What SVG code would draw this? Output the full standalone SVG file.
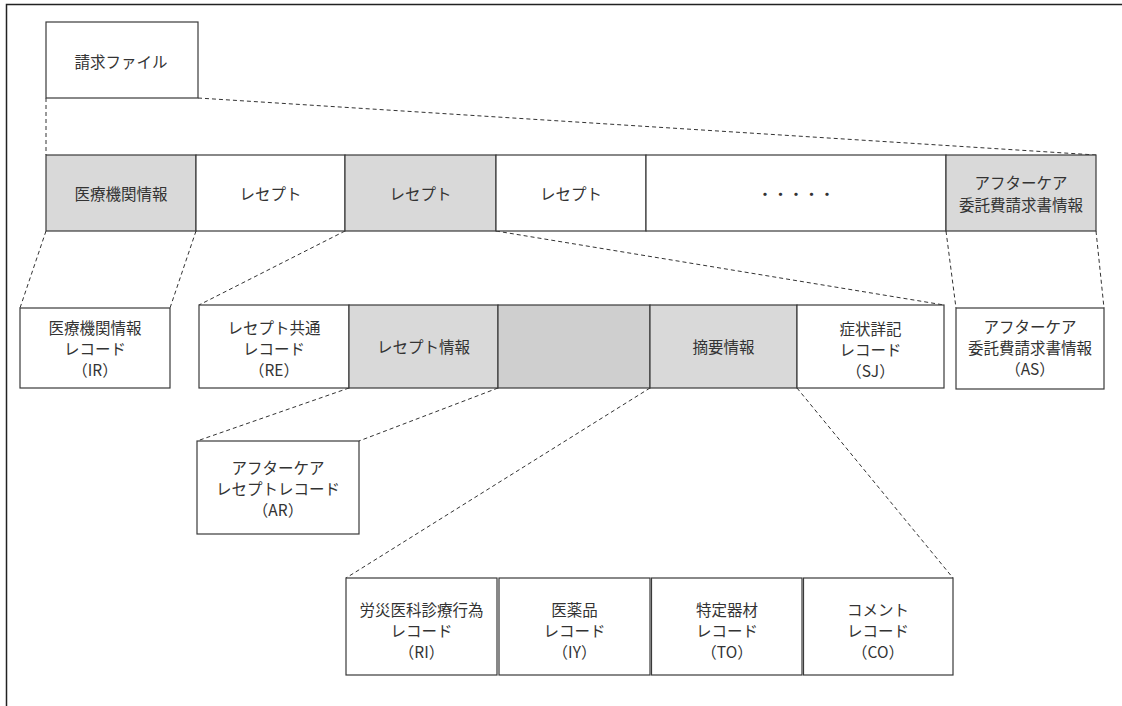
<svg xmlns="http://www.w3.org/2000/svg" width="1122" height="706" viewBox="0 0 1122 706">
<style>
.b{fill:#ffffff;stroke:#3a3a3a;stroke-width:1.2}
.g{fill:#d9d9d9;stroke:#3a3a3a;stroke-width:1.2}
.d{fill:#cfcfcf;stroke:#3a3a3a;stroke-width:1.2}
.t{font-family:"Noto Sans CJK JP","Noto Sans",sans-serif;font-size:15.5px;fill:#333333;text-anchor:middle;dominant-baseline:central}
.c line{stroke:#333333;stroke-width:1;stroke-dasharray:4 3;fill:none}
</style>
<rect x="0" y="0" width="1122" height="706" fill="#ffffff"/>
<path d="M6.5,706 V4.5 H1122" fill="none" stroke="#222222" stroke-width="1.5"/>

<g class="c" id="connectors">
<line x1="46" y1="98" x2="46" y2="155"/>
<line x1="198" y1="98" x2="1096" y2="155"/>
<line x1="46" y1="231" x2="20" y2="308"/>
<line x1="196" y1="231" x2="170" y2="308"/>
<line x1="345" y1="231" x2="199" y2="305"/>
<line x1="496" y1="231" x2="944" y2="305"/>
<line x1="946" y1="231" x2="956" y2="308"/>
<line x1="1096" y1="231" x2="1104" y2="308"/>
<line x1="349" y1="388" x2="197" y2="441"/>
<line x1="498" y1="388" x2="359" y2="441"/>
<line x1="650" y1="388" x2="346" y2="578"/>
<line x1="797" y1="388" x2="953" y2="578"/>
</g>

<g id="seikyu-file">
<rect class="b" x="46" y="22" width="152" height="76"/>
<text class="t" x="121" y="61">請求ファイル</text>
</g>

<g id="row1">
<g id="r1-iryokikan"><rect class="g" x="46" y="155" width="150" height="76"/><text class="t" x="121" y="193">医療機関情報</text></g>
<g id="r1-rece1"><rect class="b" x="196" y="155" width="149" height="76"/><text class="t" x="270.5" y="193">レセプト</text></g>
<g id="r1-rece2"><rect class="g" x="345" y="155" width="151" height="76"/><text class="t" x="420.5" y="193">レセプト</text></g>
<g id="r1-rece3"><rect class="b" x="496" y="155" width="150" height="76"/><text class="t" x="571" y="193">レセプト</text></g>
<g id="r1-dots"><rect class="b" x="646" y="155" width="300" height="76"/><text class="t" x="796" y="193">・・・・・</text></g>
<g id="r1-aftercare"><rect class="g" x="946" y="155" width="150" height="76"/><text class="t" x="1021" y="182">アフターケア</text><text class="t" x="1021" y="204">委託費請求書情報</text></g>
</g>

<g id="ir">
<rect class="b" x="20" y="308" width="150" height="80"/>
<text class="t" x="95" y="327">医療機関情報</text>
<text class="t" x="95" y="348">レコード</text>
<text class="t" x="95" y="369">（IR）</text>
</g>

<g id="row2">
<g id="re"><rect class="b" x="199" y="305" width="150" height="83"/><text class="t" x="274" y="327">レセプト共通</text><text class="t" x="274" y="348">レコード</text><text class="t" x="274" y="369">（RE）</text></g>
<g id="rece-info"><rect class="g" x="349" y="305" width="149" height="83"/><text class="t" x="423.5" y="346">レセプト情報</text></g>
<g id="blank"><rect class="d" x="498" y="305" width="152" height="83"/></g>
<g id="tekiyo"><rect class="g" x="650" y="305" width="147" height="83"/><text class="t" x="723.5" y="346">摘要情報</text></g>
<g id="sj"><rect class="b" x="797" y="305" width="147" height="83"/><text class="t" x="870.5" y="328">症状詳記</text><text class="t" x="870.5" y="349">レコード</text><text class="t" x="870.5" y="370">（SJ）</text></g>
</g>

<g id="as">
<rect class="b" x="956" y="308" width="148" height="81"/>
<text class="t" x="1030" y="326">アフターケア</text>
<text class="t" x="1030" y="347">委託費請求書情報</text>
<text class="t" x="1030" y="368">（AS）</text>
</g>

<g id="ar">
<rect class="b" x="197" y="441" width="162" height="93"/>
<text class="t" x="278" y="467">アフターケア</text>
<text class="t" x="278" y="487.5">レセプトレコード</text>
<text class="t" x="278" y="508.5">（AR）</text>
</g>

<g id="ri"><rect class="b" x="346" y="578" width="151" height="97"/><text class="t" x="421.5" y="609">労災医科診療行為</text><text class="t" x="421.5" y="629.5">レコード</text><text class="t" x="421.5" y="650.5">（RI）</text></g>
<g id="iy"><rect class="b" x="499" y="578" width="151" height="97"/><text class="t" x="574.5" y="609">医薬品</text><text class="t" x="574.5" y="629.5">レコード</text><text class="t" x="574.5" y="650.5">（IY）</text></g>
<g id="to"><rect class="b" x="651.5" y="578" width="150.5" height="97"/><text class="t" x="727" y="609">特定器材</text><text class="t" x="727" y="629.5">レコード</text><text class="t" x="727" y="650.5">（TO）</text></g>
<g id="co"><rect class="b" x="803.5" y="578" width="149.5" height="97"/><text class="t" x="878" y="609">コメント</text><text class="t" x="878" y="629.5">レコード</text><text class="t" x="878" y="650.5">（CO）</text></g>
</svg>
